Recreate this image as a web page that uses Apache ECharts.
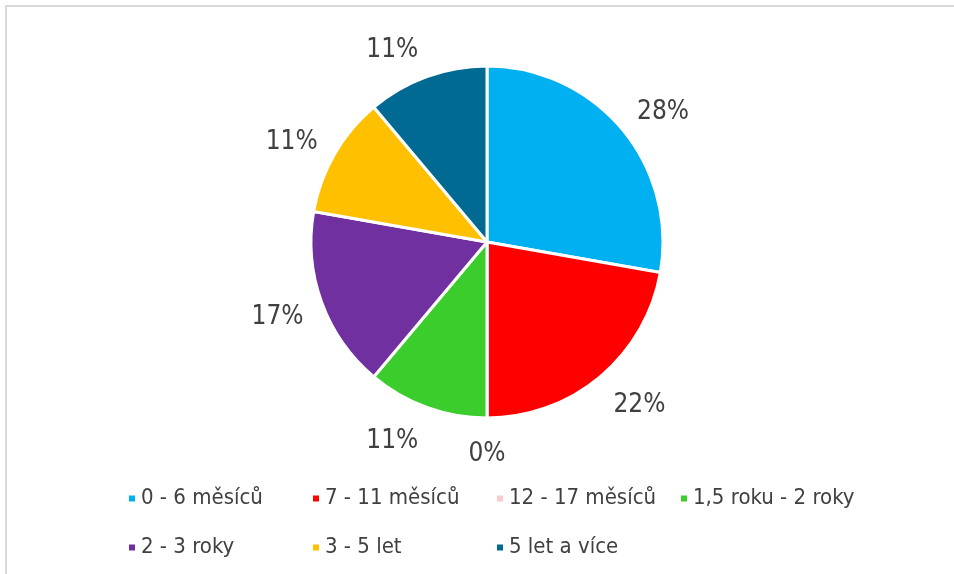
<!DOCTYPE html>
<html>
<head>
<meta charset="utf-8">
<script src="https://cdn.jsdelivr.net/npm/echarts@6/dist/echarts.min.js"></script>
<style>
  html, body { margin: 0; padding: 0; background: #ffffff; }
  #chart { width: 954px; height: 574px; }
</style>
</head>
<body>
<div id="chart"></div>
<script>
// Age groups and number of responses in each
const categories = ['0 - 6 měsíců', '7 - 11 měsíců', '12 - 17 měsíců', '1,5 roku - 2 roky', '2 - 3 roky', '3 - 5 let', '5 let a více'];
const counts = [5, 4, 0, 2, 3, 2, 2];
const sliceColors = ['#00B0F0', '#FF0000', '#FFC7CE', '#3ACD2C', '#7030A0', '#FFC000', '#006A92'];

const FONT = "'Liberation Sans Narrow', 'DejaVu Sans Condensed', 'Liberation Sans', sans-serif";
const TEXT = '#404040';

const CX = 487, CY = 242, R = 176;
const LABEL_GAP = 16;   // distance of the label anchor beyond the pie edge

const total = counts.reduce((a, b) => a + b, 0);
// mid angle of each slice, clockwise from 12 o'clock, in radians
const midAngles = [];
let acc = 0;
counts.forEach(v => {
  midAngles.push(((acc + v / 2) / total) * Math.PI * 2);
  acc += v;
});

const pieData = categories.map((name, i) => ({ name, value: counts[i], itemStyle: { color: sliceColors[i] } }));

const chart = echarts.init(document.getElementById('chart'), null, { renderer: 'canvas' });
chart.setOption({
  animation: false,
  backgroundColor: '#ffffff',
  graphic: [{
    type: 'rect',
    silent: true,
    shape: { x: 6, y: 6, width: 980, height: 600 },
    style: { fill: 'none', stroke: '#d9d9d9', lineWidth: 2 }
  }],
  legend: {
    left: 122,
    top: 470,
    width: 750,
    orient: 'horizontal',
    icon: 'rect',
    itemWidth: 8,
    itemHeight: 8,
    itemGap: 2,
    data: categories,
    textStyle: { fontFamily: FONT, fontSize: 22, color: TEXT, width: 168, lineHeight: 47 }
  },
  series: [
    {
      name: 'věk',
      type: 'pie',
      center: [CX, CY],
      radius: [0, R],
      startAngle: 90,
      clockwise: true,
      avoidLabelOverlap: false,
      percentPrecision: 0,
      itemStyle: { borderColor: '#ffffff', borderWidth: 3 },
      emphasis: { disabled: true },
      labelLine: { show: false },
      label: {
        show: true,
        position: 'outside',
        formatter: '{d}%',
        fontFamily: FONT,
        fontSize: 26,
        color: TEXT
      },
      // labels sit just outside the slice edge, pushed away along the slice's mid angle
      labelLayout: function (params) {
        const a = midAngles[params.dataIndex];
        const s = Math.sin(a), c = Math.cos(a);
        const w = params.labelRect.width, h = params.labelRect.height;
        const side = Math.abs(s) < 1e-6 ? 0 : Math.sign(s);
        const d = R + LABEL_GAP;
        return {
          x: CX + d * s + side * (w / 2 + 3),
          y: CY - (d + h / 2 + 3) * c + 4,
          align: 'center',
          verticalAlign: 'middle'
        };
      },
      data: pieData
    }
  ]
});
</script>
</body>
</html>
